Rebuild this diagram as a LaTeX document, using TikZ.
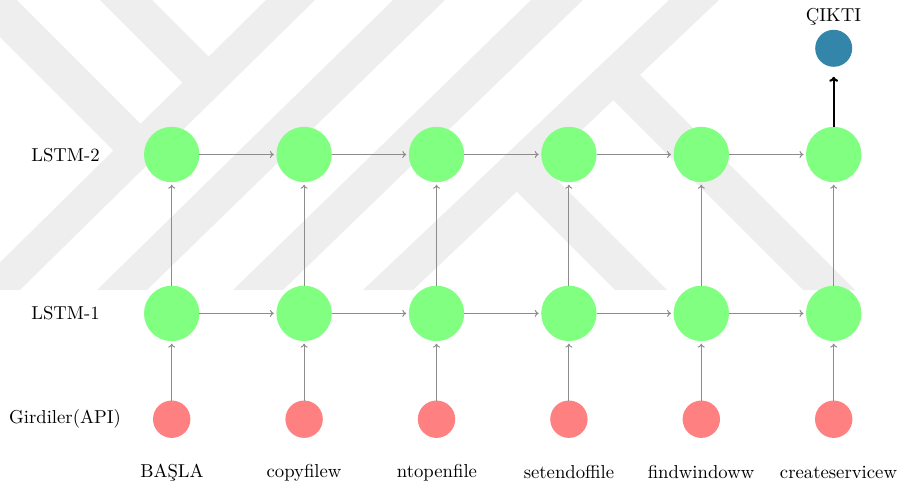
\documentclass[tikz,border=0pt]{standalone}
\usetikzlibrary{arrows.meta}

\definecolor{wmgray}{RGB}{238,238,238}
\definecolor{cellgreen}{RGB}{128,255,128}
\definecolor{inred}{RGB}{255,128,128}
\definecolor{outblue}{RGB}{51,133,170}
\definecolor{linkgray}{RGB}{140,140,140}

\tikzset{
  lstmcell/.style={circle, fill=cellgreen, draw=none, minimum size=55.4pt, inner sep=0pt, outer sep=0pt},
  inputcell/.style={circle, fill=inred, draw=none, minimum size=37.4pt, inner sep=0pt, outer sep=0pt},
  outputcell/.style={circle, fill=outblue, draw=none, minimum size=37pt, inner sep=0pt, outer sep=0pt},
  txt/.style={font=\rmfamily, inner sep=0pt, scale=1.87, transform shape},
  link/.style={draw=linkgray, line width=1pt, -{To[length=4pt,width=7pt]}, shorten >=2.5pt},
  outlink/.style={draw=black, line width=2.2pt, -{To[length=5pt,width=9pt]}, shorten >=10pt},
  band/.style={fill=wmgray, draw=none}
}

\begin{document}
\begin{tikzpicture}[x=1pt, y=-1pt]
\useasboundingbox (0,0) rectangle (901,485);

% background emblem made of diagonal bands
\begin{scope}
  \clip (0,0) rectangle (901,290);
  \fill[band] (0,-17) -- (150,133) -- (123,160) -- (0,37) -- cycle;
  \fill[band] (83,-17) -- (135,-17) -- (217.5,65.5) -- (191.5,91.5) -- cycle;
  \fill[band] (266,0) -- (315,0) -- (20,290) -- (-28,290) -- cycle;
  \fill[band] (393,0) -- (445,0) -- (147,290) -- (97,290) -- cycle;
  \fill[band] (531,0) -- (583,0) -- (283,290) -- (233,290) -- cycle;
  \fill[band] (669,0) -- (719,0) -- (413,290) -- (363,290) -- cycle;
  \fill[band] (621.5,56.5) -- (855,290) -- (803,290) -- (595.5,82.5) -- cycle;
  \fill[band] (527.5,150.5) -- (667,290) -- (615,290) -- (501.5,176.5) -- cycle;
\end{scope}

% cells of the two LSTM layers and the inputs
\foreach \x [count=\i] in {171.7,304.1,436.5,568.9,701.3,833.7} {
  \node[lstmcell] (top\i) at (\x,154.5) {};
  \node[lstmcell] (bot\i) at (\x,313.4) {};
  \node[inputcell] (in\i) at (\x,419.2) {};
}

% output cell
\node[outputcell] (out) at (833.7,48.3) {};
\node[txt] (outlab) at (833.5,17) {ÇIKTI};

% row titles
\node[txt] (lab2) at (65.5,154.8) {LSTM-2};
\node[txt] (lab1) at (65.5,313.4) {LSTM-1};
\node[txt] (labin) at (65,419.2) {Girdiler(API)};

% API call names
\foreach \x/\t [count=\i] in {172/BAŞLA, 304/copyfilew, 437/ntopenfile, 569/setendoffile, 701/findwindoww, 838.5/createservicew}
  \node[txt] (api\i) at (\x,472.5) {\t};

% connections
\foreach \i in {1,...,6} {
  \draw[link] (in\i) -- (bot\i);
  \draw[link] (bot\i) -- (top\i);
}
\foreach \i [evaluate=\i as \j using int(\i+1)] in {1,...,5} {
  \draw[link] (bot\i) -- (bot\j);
  \draw[link] (top\i) -- (top\j);
}
\draw[outlink] (top6) -- (out);
\end{tikzpicture}
\end{document}
